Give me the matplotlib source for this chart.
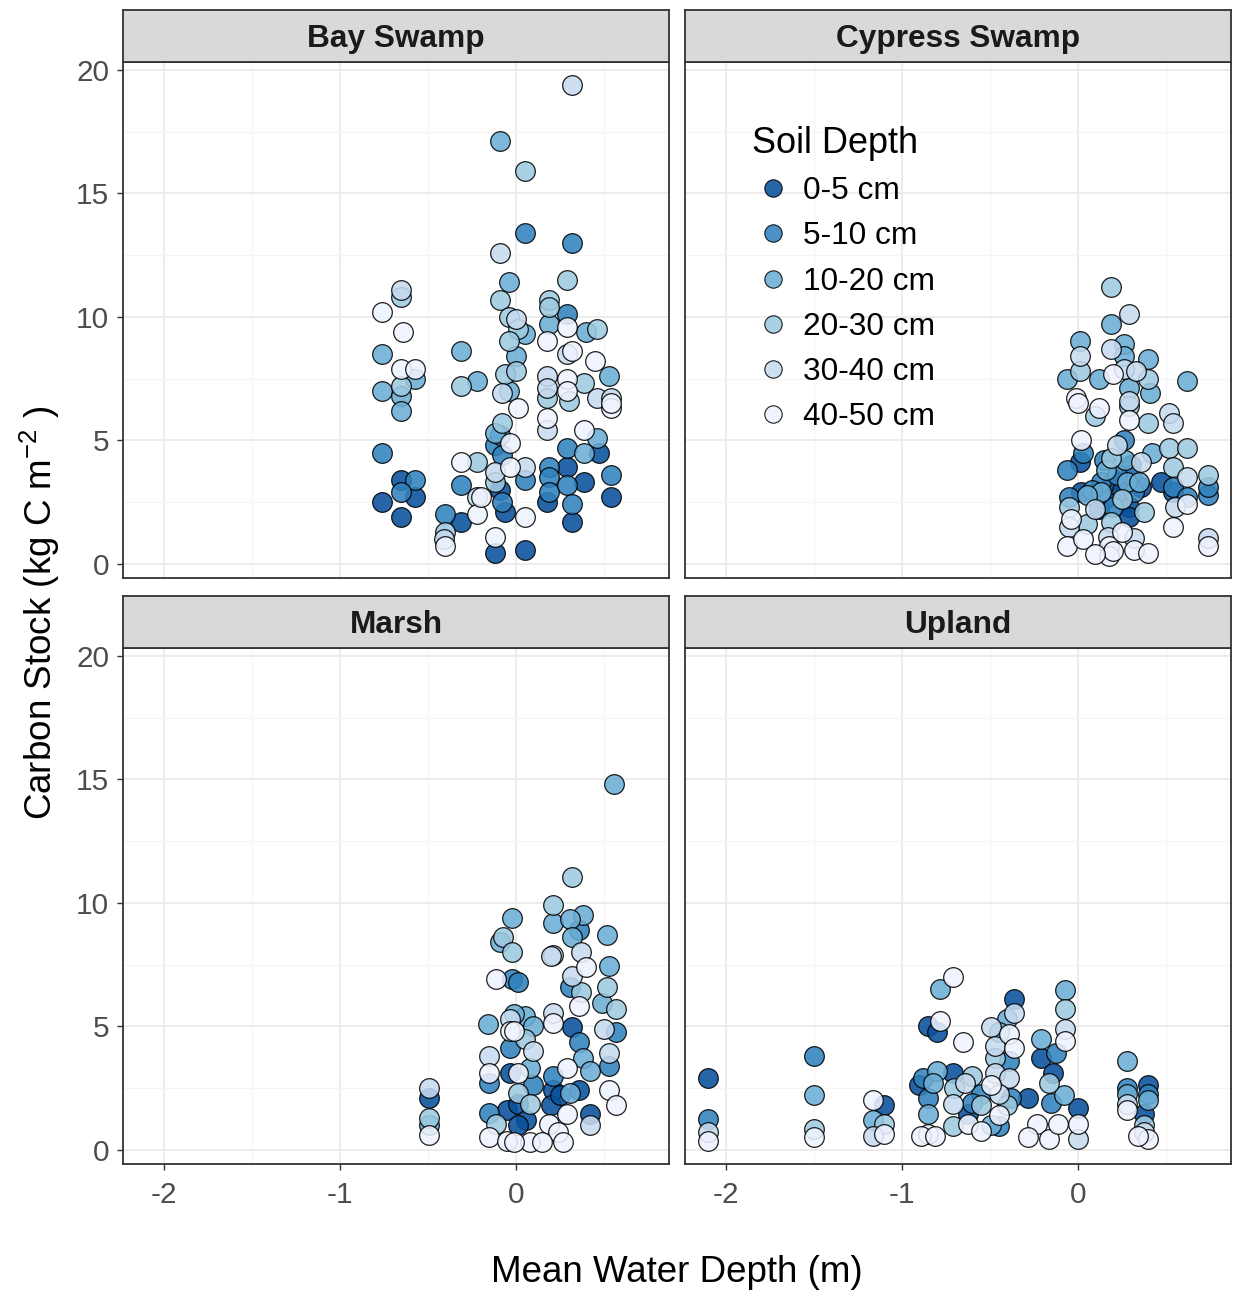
import matplotlib
matplotlib.use("Agg")
import matplotlib.pyplot as plt
from matplotlib.lines import Line2D

plt.rcParams['font.family'] = ['Liberation Sans', 'DejaVu Sans']
plt.rcParams['mathtext.fontset'] = 'custom'
plt.rcParams['mathtext.rm'] = 'Liberation Sans'
plt.rcParams['mathtext.it'] = 'Liberation Sans:italic'

# ---- data: (mean water depth m, carbon stock kg C m^-2) per soil depth class ----
depth_labels = ["0-5 cm", "5-10 cm", "10-20 cm", "20-30 cm", "30-40 cm", "40-50 cm"]
depth_colors = ["#08519C", "#3182BD", "#6BAED6", "#9ECAE1", "#C6DBEF", "#EFF3FF"]
panel_titles = ["Bay Swamp", "Cypress Swamp", "Marsh", "Upland"]

bay_d0 = [(-0.76, 2.5), (-0.65, 3.4), (-0.57, 2.7), (-0.65, 1.9), (-0.31, 1.7), (-0.06, 2.1),
          (-0.12, 0.45), (0.05, 0.55), (0.18, 2.5), (0.29, 3.9), (0.32, 1.7), (0.39, 3.3),
          (0.47, 4.5), (0.54, 2.7), (-0.09, 3.0)]
bay_d1 = [(-0.76, 4.5), (-0.57, 3.4), (-0.65, 2.9), (-0.40, 2.0), (-0.31, 3.2), (-0.12, 4.8),
          (-0.08, 4.4), (-0.08, 2.5), (0.05, 3.4), (0.05, 13.4), (0.32, 13.0), (0.29, 10.1),
          (0.19, 3.9), (0.19, 3.5), (0.19, 2.9), (0.29, 4.7), (0.29, 3.2), (0.32, 2.4),
          (0.54, 3.6), (-0.09, 5.2)]
bay_d2 = [(-0.76, 8.5), (-0.76, 7.0), (-0.65, 6.8), (-0.65, 6.2), (-0.57, 7.5), (-0.31, 8.6),
          (-0.22, 7.4), (-0.09, 17.1), (-0.04, 11.4), (0.0, 8.4), (-0.12, 5.3), (0.19, 9.7),
          (0.40, 9.4), (0.53, 7.6), (0.46, 5.1), (0.39, 4.5), (0.05, 9.3), (-0.04, 7.0)]
bay_d3 = [(-0.65, 10.8), (-0.31, 7.2), (-0.22, 4.1), (-0.40, 1.3), (0.05, 15.9), (-0.09, 10.7),
          (0.19, 10.7), (0.29, 11.5), (-0.04, 10.0), (0.19, 10.4), (0.01, 9.5), (-0.04, 9.0),
          (-0.06, 7.7), (0.0, 7.8), (-0.08, 5.7), (-0.12, 3.3), (0.18, 6.7), (0.39, 7.3),
          (0.46, 9.5), (0.30, 6.6), (-0.65, 7.2)]
bay_d4 = [(-0.65, 11.1), (-0.22, 2.7), (0.32, 19.4), (-0.09, 12.6), (-0.08, 6.9), (-0.12, 3.7),
          (0.05, 3.9), (0.18, 7.6), (0.18, 7.1), (0.18, 5.4), (0.46, 6.7), (0.54, 6.7),
          (0.0, 9.9), (0.29, 8.5), (-0.41, 1.0)]
bay_d5 = [(-0.76, 10.2), (-0.64, 9.4), (-0.65, 7.9), (-0.57, 7.9), (-0.40, 0.7), (-0.31, 4.1),
          (-0.22, 2.0), (-0.03, 4.9), (-0.03, 3.9), (0.05, 1.9), (-0.12, 1.1), (0.01, 6.3),
          (0.18, 9.0), (0.18, 5.9), (0.29, 9.6), (0.32, 8.6), (0.29, 7.5), (0.29, 7.0),
          (0.45, 8.2), (0.54, 6.3), (0.39, 5.4), (-0.20, 2.7), (0.54, 6.5)]

cyp_d0 = [(0.01, 4.1), (0.36, 3.1), (0.54, 2.9), (0.47, 3.3), (0.29, 2.3), (0.29, 1.9),
          (0.02, 2.9), (0.20, 3.4), (0.15, 2.6), (0.25, 3.0), (0.12, 2.2), (0.30, 4.0)]
cyp_d1 = [(-0.06, 3.8), (0.03, 4.5), (0.26, 5.0), (0.13, 3.3), (0.54, 3.1), (0.62, 2.7),
          (0.20, 2.3), (-0.05, 2.7), (0.74, 2.8), (0.74, 3.1), (0.30, 3.6), (0.08, 3.0),
          (0.22, 3.6), (0.15, 4.2), (0.32, 2.9)]
cyp_d2 = [(0.19, 9.7), (0.01, 9.0), (0.26, 8.9), (0.40, 8.3), (0.26, 8.4), (-0.06, 7.5),
          (0.12, 7.5), (0.29, 7.1), (0.41, 6.9), (0.62, 7.4), (0.27, 4.2), (0.28, 3.3),
          (0.13, 2.9), (0.05, 2.8), (0.42, 4.5), (0.16, 3.8), (0.35, 3.3)]
cyp_d3 = [(0.19, 11.2), (0.01, 7.8), (0.40, 7.5), (0.29, 6.4), (0.40, 5.7), (0.52, 4.7),
          (0.62, 4.7), (0.19, 4.3), (0.54, 3.9), (0.74, 3.6), (-0.05, 2.3), (0.375, 2.1),
          (0.19, 1.7), (0.10, 6.0), (0.25, 2.6), (0.05, 1.6)]
cyp_d4 = [(0.29, 10.1), (0.01, 8.4), (0.19, 8.7), (0.26, 7.9), (0.33, 7.8), (0.52, 6.1),
          (0.54, 5.7), (0.36, 4.1), (0.62, 3.5), (-0.05, 1.5), (0.55, 2.3), (0.74, 1.05),
          (0.17, 1.1), (0.32, 1.05), (0.29, 6.6), (0.10, 2.2), (0.22, 4.8)]
cyp_d5 = [(0.20, 7.7), (-0.01, 6.7), (0.12, 6.3), (0.02, 5.0), (0.29, 5.8), (0.62, 2.4),
          (0.54, 1.5), (0.74, 0.7), (-0.06, 0.7), (0.03, 1.0), (0.18, 0.7), (0.18, 0.3),
          (0.32, 0.55), (0.40, 0.45), (-0.04, 1.8), (0.0, 6.5), (0.20, 0.5), (0.10, 0.4),
          (0.25, 1.3)]

marsh_d0 = [(-0.49, 2.1), (-0.03, 3.1), (-0.05, 1.6), (0.32, 4.95), (0.21, 2.4), (0.36, 2.4),
            (0.01, 1.85), (0.20, 1.8), (0.42, 1.45), (0.06, 1.2), (0.01, 1.0), (0.25, 2.2)]
marsh_d1 = [(-0.02, 6.9), (-0.03, 4.1), (-0.15, 2.7), (-0.15, 1.5), (0.01, 6.8), (0.31, 6.6),
            (0.57, 4.75), (0.36, 4.35), (0.53, 3.4), (0.21, 3.0), (0.36, 8.9), (0.10, 2.6)]
marsh_d2 = [(0.56, 14.8), (-0.02, 9.4), (0.21, 9.2), (0.38, 9.5), (0.31, 9.35), (0.52, 8.7),
            (0.32, 8.6), (-0.09, 8.4), (-0.16, 5.1), (0.53, 7.45), (0.49, 5.95), (0.05, 5.4),
            (-0.01, 5.5), (0.10, 5.0), (0.38, 3.7), (0.08, 3.3), (0.42, 3.2), (0.31, 2.3),
            (-0.49, 1.0)]
marsh_d3 = [(0.32, 11.05), (0.21, 9.9), (-0.07, 8.6), (-0.02, 8.0), (0.52, 6.6), (0.37, 6.4),
            (0.57, 5.7), (-0.11, 1.05), (0.01, 2.3), (0.08, 1.85), (-0.49, 1.3), (0.05, 4.5)]
marsh_d4 = [(0.21, 7.9), (0.37, 8.0), (0.20, 7.85), (0.32, 7.05), (0.21, 5.55), (0.50, 4.9),
            (0.53, 3.9), (-0.03, 5.3), (-0.15, 3.8), (0.42, 1.0), (-0.49, 2.5), (0.10, 4.0)]
marsh_d5 = [(-0.11, 6.9), (-0.03, 4.8), (-0.15, 3.1), (-0.15, 0.5), (-0.05, 0.35), (0.40, 7.4),
            (0.36, 5.8), (0.21, 5.15), (-0.01, 4.8), (0.29, 3.3), (0.01, 3.1), (0.53, 2.4),
            (0.57, 1.8), (0.29, 1.45), (0.19, 1.05), (0.24, 0.7), (0.08, 0.3), (0.15, 0.3),
            (0.27, 0.3), (-0.01, 0.3), (-0.49, 0.6)]

upl_d0 = [(-2.10, 2.9), (-1.10, 1.8), (-0.85, 5.0), (-0.80, 4.75), (-0.36, 6.1), (-0.21, 3.7),
          (-0.14, 3.1), (0.0, 1.7), (-0.28, 2.1), (-0.71, 3.1), (-0.625, 1.45), (0.40, 2.6),
          (0.375, 1.45), (-0.90, 2.6)]
upl_d1 = [(-2.10, 1.25), (-1.50, 3.8), (-0.39, 3.6), (-0.125, 3.9), (-0.15, 1.9), (-0.88, 2.9),
          (-0.85, 2.1), (-0.55, 2.25), (-0.38, 2.1), (-0.45, 0.95), (0.28, 2.5), (0.40, 2.25),
          (-0.60, 1.9)]
upl_d2 = [(-1.50, 2.2), (-1.165, 1.2), (-0.78, 6.5), (-0.40, 5.3), (-0.45, 4.75), (-0.21, 4.5),
          (-0.07, 6.45), (-0.08, 2.2), (-0.80, 3.2), (-0.82, 2.7), (-0.85, 1.45), (-0.49, 1.0),
          (0.28, 3.6), (0.28, 2.25), (0.40, 2.0)]
upl_d3 = [(-1.50, 0.85), (-1.10, 1.05), (-0.47, 3.7), (-0.07, 5.7), (-0.165, 2.7), (-0.70, 2.5),
          (-0.55, 1.8), (-0.40, 1.8), (-0.71, 0.95), (0.375, 1.0), (-0.60, 3.0)]
upl_d4 = [(-2.10, 0.7), (-1.16, 0.55), (-0.36, 5.55), (-0.49, 4.95), (-0.47, 4.2), (-0.47, 3.1),
          (-0.39, 2.9), (-0.07, 4.9), (0.0, 0.45), (-0.64, 2.7), (-0.71, 1.85), (-0.45, 2.25),
          (0.28, 1.85), (0.375, 0.7)]
upl_d5 = [(-2.10, 0.35), (-1.50, 0.5), (-1.165, 2.0), (-1.10, 0.65), (-0.71, 7.0), (-0.78, 5.2),
          (-0.65, 4.35), (-0.39, 4.7), (-0.36, 4.1), (-0.49, 2.6), (-0.07, 4.4), (0.0, 1.05),
          (-0.23, 1.05), (-0.28, 0.5), (-0.165, 0.45), (-0.11, 1.05), (-0.45, 1.4), (-0.625, 1.05),
          (-0.85, 0.65), (-0.89, 0.55), (-0.81, 0.55), (-0.55, 0.75), (0.28, 1.6), (0.40, 0.45),
          (0.34, 0.55)]

bay = [bay_d0, bay_d1, bay_d2, bay_d3, bay_d4, bay_d5]
cypress = [cyp_d0, cyp_d1, cyp_d2, cyp_d3, cyp_d4, cyp_d5]
marsh = [marsh_d0, marsh_d1, marsh_d2, marsh_d3, marsh_d4, marsh_d5]
upland = [upl_d0, upl_d1, upl_d2, upl_d3, upl_d4, upl_d5]
panel_data = [bay, cypress, marsh, upland]

x_major = [-2, -1, 0]
x_labels = ["-2", "-1", "0"]
y_major = [0, 5, 10, 15, 20]
y_labels = ["0", "5", "10", "15", "20"]

# ---- layout (pixel geometry of a 1235 x 1298 canvas) ----
W, H = 1235, 1298
fig = plt.figure(figsize=(W / 100, H / 100), dpi=100)


def frame(px, py, pw, ph):
    return [px / W, 1 - (py + ph) / H, pw / W, ph / H]


PW, PH, SH = 546, 516, 52
origins = [(123, 62), (685, 62), (123, 648), (685, 648)]
tick_grey = "#4D4D4D"
border = "#333333"

axes = []
for i, (title, data, (ox, oy)) in enumerate(zip(panel_titles, panel_data, origins)):
    ax = fig.add_axes(frame(ox, oy, PW, PH))
    ax.set_xlim(-2.23, 0.87)
    ax.set_ylim(-0.58, 20.32)
    ax.set_xticks(x_major)
    ax.set_xticks([-1.5, -0.5, 0.5], minor=True)
    ax.set_yticks(y_major)
    ax.set_yticks([2.5, 7.5, 12.5, 17.5], minor=True)
    ax.grid(which="major", color="#EBEBEB", linewidth=1.3)
    ax.grid(which="minor", color="#F4F4F4", linewidth=0.8)
    ax.set_axisbelow(True)
    for sp in ax.spines.values():
        sp.set_color(border)
        sp.set_linewidth(1.3)
    ax.tick_params(which="major", length=4, width=1, color=border,
                   labelsize=21.4, labelcolor=tick_grey)
    ax.tick_params(axis="x", pad=8)
    ax.tick_params(axis="y", pad=6)
    ax.tick_params(which="minor", length=0)
    if i in (2, 3):
        ax.set_xticklabels(x_labels)
    else:
        ax.set_xticklabels([])
        ax.tick_params(axis="x", which="major", length=0)
    if i in (0, 2):
        ax.set_yticklabels(y_labels)
    else:
        ax.set_yticklabels([])
        ax.tick_params(axis="y", which="major", length=0)

    for k, pts in enumerate(data):
        xs = [p[0] for p in pts]
        ys = [p[1] for p in pts]
        ax.scatter(xs, ys, s=200, c=depth_colors[k], edgecolors="black",
                   linewidths=0.9, alpha=0.88, zorder=3)

    strip = fig.add_axes(frame(ox, oy - SH, PW, SH))
    strip.set_facecolor("#D9D9D9")
    strip.set_xticks([])
    strip.set_yticks([])
    for sp in strip.spines.values():
        sp.set_color(border)
        sp.set_linewidth(1.3)
    strip.text(0.5, 0.44, title, transform=strip.transAxes, ha="center", va="center",
               fontsize=22.8, fontweight="bold", color="#1A1A1A")
    axes.append(ax)

# legend inside the Cypress Swamp panel
handles = [Line2D([], [], linestyle="none", marker="o", markersize=12.5,
                  markerfacecolor=c, markeredgecolor="black", markeredgewidth=0.8, alpha=0.88)
           for c in depth_colors]
leg = axes[1].legend(handles, depth_labels, title="Soil Depth", loc="upper left",
                     bbox_to_anchor=(752 / W, 1 - 126 / H), bbox_transform=fig.transFigure,
                     frameon=False, fontsize=22.8, title_fontsize=26, labelspacing=0.48,
                     handlelength=1.3, handletextpad=0.3, borderpad=0, borderaxespad=0,
                     alignment="left")

fig.text(677 / W, 1 - 1273 / H, "Mean Water Depth (m)", ha="center", va="center",
         fontsize=26.5, color="black")
fig.text(40 / W, 1 - 613 / H, "Carbon Stock (kg C m$^{-2}$ )", ha="center", va="center",
         rotation=90, fontsize=26.5, color="black")

fig.savefig("out.png", dpi=100, facecolor="white")
